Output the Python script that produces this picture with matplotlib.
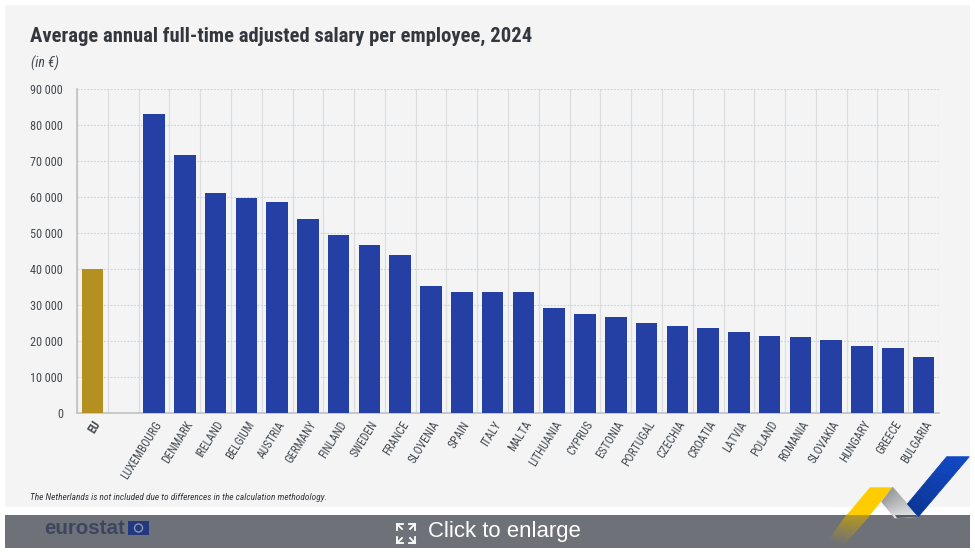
import matplotlib
matplotlib.use("Agg")
import matplotlib.pyplot as plt
from matplotlib import font_manager as fm
from matplotlib.patches import Polygon, Rectangle
from matplotlib.lines import Line2D
from matplotlib.colors import to_rgb
from matplotlib.transforms import ScaledTranslation
import numpy as np

W, H = 975, 558
names = {f.name for f in fm.fontManager.ttflist}
NARROW = next((n for n in ["Roboto Condensed", "Open Sans Condensed", "Liberation Sans Narrow", "Roboto"] if n in names), "DejaVu Sans")

title = "Average annual full-time adjusted salary per employee, 2024"
unit = "(in €)"
note = "The Netherlands is not included due to differences in the calculation methodology."
countries = ["EU", "", "LUXEMBOURG", "DENMARK", "IRELAND", "BELGIUM", "AUSTRIA", "GERMANY", "FINLAND",
             "SWEDEN", "FRANCE", "SLOVENIA", "SPAIN", "ITALY", "MALTA", "LITHUANIA", "CYPRUS", "ESTONIA",
             "PORTUGAL", "CZECHIA", "CROATIA", "LATVIA", "POLAND", "ROMANIA", "SLOVAKIA", "HUNGARY",
             "GREECE", "BULGARIA"]
salaries = [40000, 0, 83000, 71800, 61200, 59800, 58700, 53900, 49500, 46600, 43900, 35300, 33700,
            33600, 33500, 29200, 27600, 26600, 24900, 24200, 23500, 22400, 21400, 21200, 20400,
            18600, 18100, 15500]
yticks = [0, 10000, 20000, 30000, 40000, 50000, 60000, 70000, 80000, 90000]
ylabels = ["0", "10 000", "20 000", "30 000", "40 000", "50 000", "60 000", "70 000", "80 000", "90 000"]

BLUE, GOLD = "#2540a5", "#b3901f"
colors = [GOLD] + [BLUE] * (len(salaries) - 1)

fig = plt.figure(figsize=(W / 100, H / 100), dpi=100, facecolor="white")
bg = fig.add_axes([0, 0, 1, 1], zorder=0)
bg.set_xlim(0, W); bg.set_ylim(H, 0); bg.axis("off")
bg.add_patch(Rectangle((5, 5), 965, 502, fc="#f4f4f5", ec="none"))
bg.add_patch(Rectangle((5, 515), 965, 33, fc="#6f7178", ec="none"))

ax = fig.add_axes([77 / W, 1 - 413 / H, 862 / W, 324 / H], zorder=1)
ax.patch.set_alpha(0)
x = np.arange(len(salaries))
ax.bar(x, salaries, width=0.70, color=colors, zorder=3)
ax.set_xlim(-0.5, len(salaries) - 0.5)
ax.set_ylim(0, 90000)
ax.set_yticks(yticks, ylabels, fontfamily=NARROW, fontsize=8.8, color="#444a50")
ax.set_xticks(x, countries, rotation=58, ha="right", rotation_mode="anchor",
              fontfamily=NARROW, fontsize=8.4, color="#444a50")
shift = ScaledTranslation(4 / 72, 0, fig.dpi_scale_trans)
for lab in ax.get_xticklabels():
    lab.set_transform(lab.get_transform() + shift)
ax.get_xticklabels()[0].set_fontweight("bold")
ax.tick_params(axis="y", length=0, pad=10)
ax.tick_params(axis="x", length=0, pad=4)
ax.grid(axis="y", color="#cfd0d2", lw=0.8, ls=(0, (1.5, 1.5)), zorder=1)
for b in np.arange(-0.5, len(salaries)):
    ax.axvline(b, color="#dcdddf", lw=0.9, zorder=1)
for s in ("top", "right"):
    ax.spines[s].set_visible(False)
for s in ("left", "bottom"):
    ax.spines[s].set_color("#c0c1c3")
    ax.spines[s].set_linewidth(1.2)

top = fig.add_axes([0, 0, 1, 1], zorder=2)
top.set_xlim(0, W); top.set_ylim(H, 0); top.axis("off")
top.text(30, 36, title, fontfamily=NARROW, fontweight="bold", fontsize=14.85, color="#33383e", va="center")
top.text(31, 63, unit, fontfamily=NARROW, fontstyle="italic", fontsize=10, color="#444a50", va="center")
top.text(30, 497, note, fontfamily=NARROW, fontstyle="italic", fontsize=6.75, color="#33383e", va="center")

# footer
top.text(44, 528, "eurostat", fontfamily="Liberation Sans", fontweight="bold", fontsize=14.8,
         color="#3c4660", va="center")
top.add_patch(Rectangle((128, 521), 21, 14, fc="#23397f", ec="none"))
top.add_patch(plt.Circle((138.5, 528), 4, fc="none", ec="#8f97ad", lw=1))
top.text(428, 531, "Click to enlarge", fontfamily="Liberation Sans", fontsize=15.9, color="white", va="center")
for cx, cy, dx, dy in [(397, 524, 1, 1), (415, 524, -1, 1), (397, 543, 1, -1), (415, 543, -1, -1)]:
    top.add_line(Line2D([cx + 6 * dx, cx, cx], [cy, cy, cy + 6 * dy], color="white", lw=1.3))
    top.add_line(Line2D([cx, cx + 5 * dx], [cy, cy + 5 * dy], color="white", lw=1.3))

# logo
def strips(a0, a1, b0, b1, c0, c1, n=16):
    a0, a1, b0, b1 = map(np.array, (a0, a1, b0, b1))
    c0, c1 = np.array(to_rgb(c0)), np.array(to_rgb(c1))
    for i in range(n):
        t0, t1 = i / n, (i + 1) / n
        col = tuple(c0 + (c1 - c0) * (t0 + t1) / 2)
        top.add_patch(Polygon([a0 + (a1 - a0) * t0, b0 + (b1 - b0) * t0,
                               b0 + (b1 - b0) * t1, a0 + (a1 - a0) * t1],
                              fc=col, ec=col, lw=0.5))

strips((846.7, 515), (828, 541), (870, 515), (843, 546), "#b89a1a", "#6f7178")
top.add_patch(Polygon([(870, 487.3), (892.7, 487.3), (870, 515), (846.7, 515)], fc="#ffcc00", ec="none"))
strips((892.7, 487.3), (918.3, 516.7), (881.7, 501.7), (895, 518), "#98999b", "#e4e5e6")
top.add_patch(Polygon([(895, 515), (916, 515), (918.3, 517), (897, 518)], fc="#575a60", ec="none"))
strips((946.7, 456.7), (907.3, 504), (969.3, 456.7), (918.3, 516.7), "#1049c4", "#0b3596")

fig.savefig("out.png", dpi=100, facecolor="white")
